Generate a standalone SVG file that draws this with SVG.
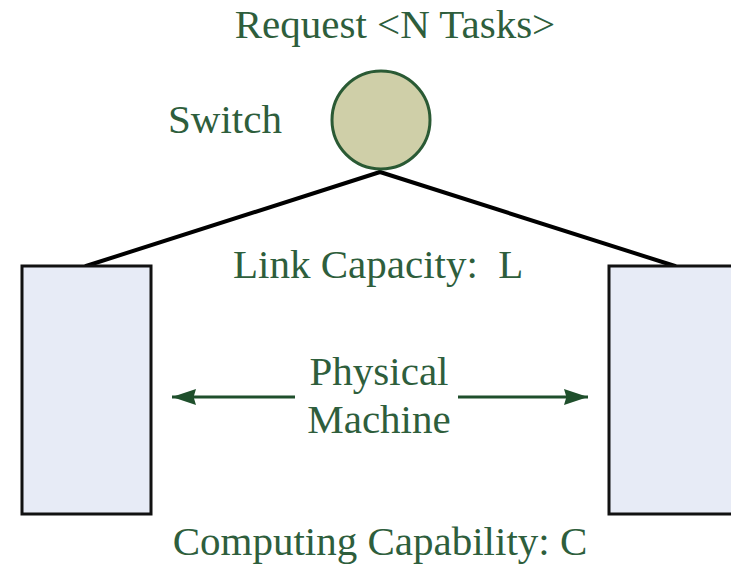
<svg xmlns="http://www.w3.org/2000/svg" width="731" height="570" viewBox="0 0 731 570">
<style>
.t{font-family:"Liberation Serif","Times New Roman",serif;font-size:41px;fill:#2e5e3c}
.pm{fill:#e7ebf6;stroke:#111;stroke-width:3}
.ln{stroke:#000;stroke-width:4;fill:none;stroke-linecap:round}
.ar{stroke:#1f4f2c;stroke-width:3;fill:none}
</style>
<defs>
<marker id="ah" viewBox="0 0 10 10" refX="10" refY="5" markerWidth="24" markerHeight="16" markerUnits="userSpaceOnUse" orient="auto" preserveAspectRatio="none">
<path d="M0,0 L10,5 L0,10 L1,5 z" fill="#1f4f2c"/>
</marker>
</defs>
<rect width="731" height="570" fill="#fff"/>
<g id="connectors">
<line class="ln" x1="380" y1="172" x2="86" y2="266"/>
<line class="ln" x1="380" y1="172" x2="675" y2="266"/>
<path class="ar" d="M295,397 H172" marker-end="url(#ah)"/>
<path class="ar" d="M458,397 H588" marker-end="url(#ah)"/>
</g>
<g id="switch">
<circle cx="381" cy="120" r="49" fill="#cfcfa8" stroke="#2a5a34" stroke-width="3"/>
<text class="t" x="168" y="133">Switch</text>
</g>
<g id="request">
<text class="t" x="395" y="38" text-anchor="middle">Request &lt;N Tasks&gt;</text>
</g>
<g id="pm-left">
<rect class="pm" x="22" y="266" width="129" height="248"/>
</g>
<g id="pm-right">
<rect class="pm" x="609" y="266" width="130" height="248"/>
</g>
<g id="labels">
<text class="t" x="233" y="278" xml:space="preserve">Link Capacity:  L</text>
<text class="t" x="379" y="385" text-anchor="middle">Physical</text>
<text class="t" x="379" y="433" text-anchor="middle">Machine</text>
<text class="t" x="380" y="555" text-anchor="middle">Computing Capability: C</text>
</g>
</svg>
